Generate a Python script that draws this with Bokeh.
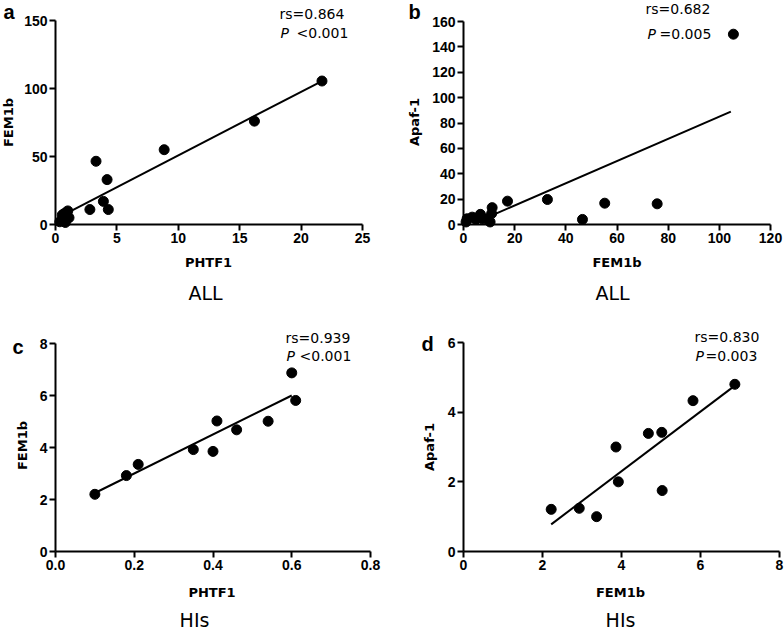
import math
from bokeh.plotting import figure
from bokeh.layouts import column, row
from bokeh.models import Range1d, Label, FixedTicker, PrintfTickFormatter
from bokeh.embed import file_html
from bokeh.resources import INLINE

# ---------------- data ----------------
# Panel a: ALL, PHTF1 vs FEM1b
a_phtf1 = [21.7, 16.2, 8.85, 3.3, 4.2, 3.9, 2.8, 4.3, 1.0, 0.55, 1.1, 0.65, 0.8, 0.35, 0.7]
a_fem1b = [105.5, 76.0, 55.0, 46.5, 33.0, 17.0, 11.0, 11.0, 10.0, 7.0, 5.0, 3.0, 1.5, 2.0, 8.0]
a_fit_x = [0.3, 21.7]
a_fit_y = [5.5, 105.5]

# Panel b: ALL, FEM1b vs Apaf-1
b_fem1b = [105.5, 75.7, 55.2, 46.5, 32.8, 17.2, 11.2, 11.0, 10.4, 6.6, 9.3, 3.4, 1.4, 7.5, 4.8, 1.0]
b_apaf1 = [150.0, 16.3, 16.8, 4.0, 19.7, 18.4, 13.3, 8.6, 2.0, 8.0, 4.5, 5.8, 4.5, 4.3, 4.0, 2.0]
b_fit_x = [4.0, 104.5]
b_fit_y = [1.0, 89.0]

# Panel c: HIs, PHTF1 vs FEM1b
c_phtf1 = [0.10, 0.18, 0.21, 0.35, 0.40, 0.41, 0.46, 0.54, 0.60, 0.61]
c_fem1b = [2.20, 2.92, 3.35, 3.92, 3.85, 5.02, 4.68, 5.01, 6.87, 5.81]
c_fit_x = [0.10, 0.60]
c_fit_y = [2.25, 6.00]

# Panel d: HIs, FEM1b vs Apaf-1
d_fem1b = [2.22, 2.93, 3.37, 3.86, 3.92, 4.68, 5.02, 5.03, 5.81, 6.87]
d_apaf1 = [1.21, 1.24, 1.00, 3.00, 2.00, 3.39, 3.42, 1.75, 4.33, 4.80]
d_fit_x = [2.22, 6.82]
d_fit_y = [0.78, 4.72]

# axis limits and tick values
a_xlim, a_ylim = (0, 25), (0, 150)
b_xlim, b_ylim = (0, 120), (0, 160)
c_xlim, c_ylim = (0, 0.8), (0, 8)
d_xlim, d_ylim = (0, 8), (0, 6)
a_xticks = [0, 5, 10, 15, 20, 25]
a_yticks = [0, 50, 100, 150]
b_xticks = [0, 20, 40, 60, 80, 100, 120]
b_yticks = [0, 20, 40, 60, 80, 100, 120, 140, 160]
c_xticks = [0.0, 0.2, 0.4, 0.6, 0.8]
c_yticks = [0, 2, 4, 6, 8]
d_xticks = [0, 2, 4, 6, 8]
d_yticks = [0, 2, 4, 6]

# texts
a_rs, a_p = "rs=0.864", "<0.001"
b_rs, b_p = "rs=0.682", "=0.005"
c_rs, c_p = "rs=0.939", "<0.001"
d_rs, d_p = "rs=0.830", "=0.003"

TICK_FONT = "Liberation Sans"
TEXT_FONT = "DejaVu Sans"
MID = 0.35  # baseline -> middle of text, in em


def panel(fig_box, frame, xlim, ylim, xticks, yticks, xfmt, yfmt,
          xlabel, xlabel_pos, ylabel, ylabel_pos,
          xs, ys, fx, fy, letter, letter_pos, rs, rs_pos, ptxt, p_pos, p_rest_x,
          group, group_pos):
    # fig_box: page position/size of the canvas; frame: page pixels of the axes box
    fx0, fy0, fw, fh = fig_box
    L, R, T, B = frame
    xppu = (R - L) / (xlim[1] - xlim[0])
    yppu = (B - T) / (ylim[1] - ylim[0])
    xr = (xlim[0] - (L - fx0) / xppu, xlim[1] + (fx0 + fw - R) / xppu)
    yr = (ylim[0] - (fy0 + fh - B) / yppu, ylim[1] + (T - fy0) / yppu)

    p = figure(width=fw, height=fh, x_range=Range1d(*xr), y_range=Range1d(*yr),
               output_backend="svg", toolbar_location=None, title=None,
               min_border=0, min_border_left=0, min_border_right=0,
               min_border_top=0, min_border_bottom=0)
    p.outline_line_color = None
    p.xgrid.visible = False
    p.ygrid.visible = False
    p.background_fill_color = "white"
    p.border_fill_color = "white"

    for ax in (p.xaxis[0], p.yaxis[0]):
        ax.fixed_location = 0
        ax.axis_line_width = 2
        ax.axis_line_color = "black"
        ax.major_tick_line_width = 2
        ax.major_tick_line_color = "black"
        ax.major_tick_out = 6
        ax.major_tick_in = 0
        ax.minor_tick_line_color = None
        ax.major_label_text_font = TICK_FONT
        ax.major_label_text_font_style = "bold"
        ax.major_label_text_font_size = "14px"
        ax.major_label_text_color = "black"
        ax.major_label_standoff = 2
    p.xaxis[0].bounds = xlim
    p.yaxis[0].bounds = ylim
    p.xaxis[0].ticker = FixedTicker(ticks=xticks)
    p.yaxis[0].ticker = FixedTicker(ticks=yticks)
    p.xaxis[0].formatter = PrintfTickFormatter(format=xfmt)
    p.yaxis[0].formatter = PrintfTickFormatter(format=yfmt)

    p.line(fx, fy, line_width=2, line_color="black")
    p.scatter(xs, ys, size=10, fill_color="black", line_color="black")

    def to_data(px, py):
        return xlim[0] + (px - L) / xppu, ylim[0] + (B - py) / yppu

    def add_text(txt, pos, size, font, style, align="left", rotated=False):
        # pos is the page position of the text's baseline; anchor at its middle
        px, py = pos
        if rotated:
            px -= MID * size
        else:
            py -= MID * size
        x, y = to_data(px, py)
        p.add_layout(Label(x=x, y=y, text=txt, text_font=font,
                           text_font_size=f"{size}px", text_font_style=style,
                           text_color="black", text_align=align,
                           text_baseline="middle",
                           angle=(math.pi / 2 if rotated else 0.0)))

    add_text(letter, letter_pos, 20, TICK_FONT, "bold")
    add_text(rs, rs_pos, 14, TEXT_FONT, "normal")
    add_text("P", p_pos, 14, TEXT_FONT, "italic")
    add_text(ptxt, (p_rest_x, p_pos[1]), 14, TEXT_FONT, "normal")
    add_text(group, group_pos, 19, TEXT_FONT, "normal", align="center")
    add_text(xlabel, xlabel_pos, 13, TEXT_FONT, "bold", align="center")
    add_text(ylabel, ylabel_pos, 13, TEXT_FONT, "bold", align="center",
             rotated=True)
    return p


ROW1_H = 305
ROW2_H = 326

pa = panel((0, 0, 392, ROW1_H), (55, 362, 20, 224), a_xlim, a_ylim,
           a_xticks, a_yticks, "%d", "%d",
           "PHTF1", (208, 267), "FEM1b", (13, 122),
           a_phtf1, a_fem1b, a_fit_x, a_fit_y,
           "a", (3, 18.5), a_rs, (279, 18.5), a_p, (280, 37.5), 296,
           "ALL", (205, 299))

pb = panel((392, 0, 392, ROW1_H), (463, 770, 21, 224), b_xlim, b_ylim,
           b_xticks, b_yticks, "%d", "%d",
           "FEM1b", (616.5, 267), "Apaf-1", (419, 121.5),
           b_fem1b, b_apaf1, b_fit_x, b_fit_y,
           "b", (408, 18.5), b_rs, (645, 13.5), b_p, (647, 38.5), 659,
           "ALL", (612, 299))

pc = panel((0, ROW1_H, 392, ROW2_H), (55, 370, 343, 551), c_xlim, c_ylim,
           c_xticks, c_yticks, "%.1f", "%d",
           "PHTF1", (211.5, 597), "FEM1b", (27, 445),
           c_phtf1, c_fem1b, c_fit_x, c_fit_y,
           "c", (12, 353.5), c_rs, (285, 342), c_p, (286, 360.5), 299,
           "HIs", (194, 626))

pd_ = panel((392, ROW1_H, 392, ROW2_H), (463, 779, 342, 551), d_xlim, d_ylim,
            d_xticks, d_yticks, "%d", "%d",
            "FEM1b", (620, 596.5), "Apaf-1", (434, 446.5),
            d_fem1b, d_apaf1, d_fit_x, d_fit_y,
            "d", (421, 350), d_rs, (694, 341), d_p, (695, 360), 705,
            "HIs", (620, 626))

layout = column(row(pa, pb), row(pc, pd_))

open("out.html", "w").write(file_html(layout, INLINE))
